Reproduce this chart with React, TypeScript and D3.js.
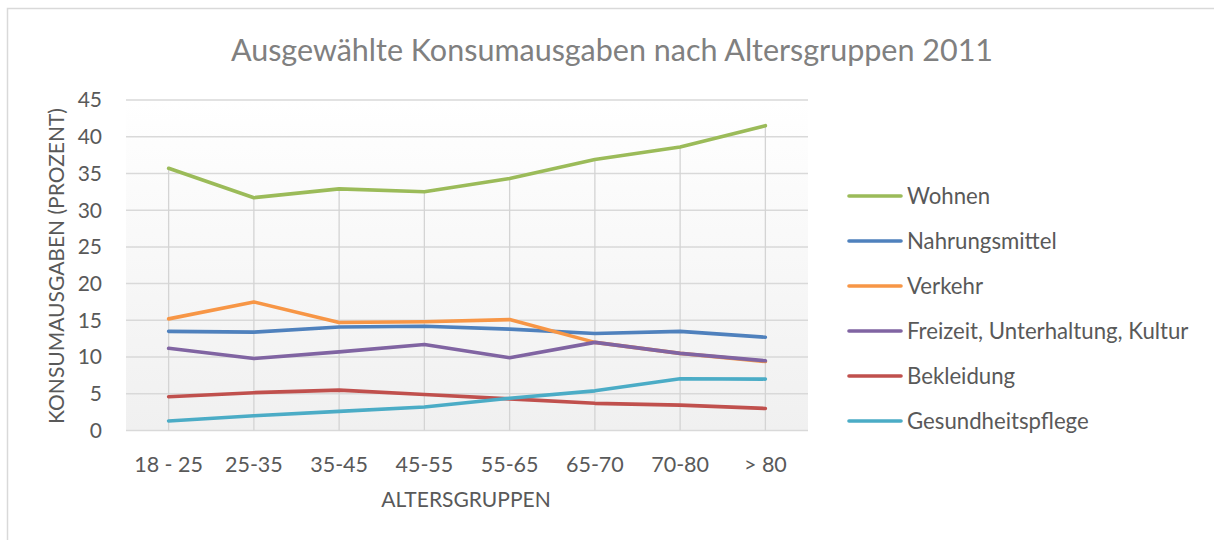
import React from "react";
import * as d3 from "d3";

const categories = ["18 - 25", "25-35", "35-45", "45-55", "55-65", "65-70", "70-80", "> 80"];
const wohnen = [35.7, 31.7, 32.9, 32.5, 34.3, 36.9, 38.6, 41.5];
const nahrungsmittel = [13.5, 13.4, 14.1, 14.2, 13.8, 13.2, 13.5, 12.7];
const verkehr = [15.2, 17.5, 14.7, 14.8, 15.1, 12.0, 10.5, 9.4];
const freizeit = [11.2, 9.8, 10.7, 11.7, 9.9, 12.0, 10.5, 9.5];
const bekleidung = [4.6, 5.15, 5.5, 4.9, 4.3, 3.7, 3.45, 3.0];
const gesundheit = [1.3, 2.0, 2.6, 3.2, 4.4, 5.4, 7.05, 7.0];
const seriesNames = ["Wohnen", "Nahrungsmittel", "Verkehr", "Freizeit, Unterhaltung, Kultur", "Bekleidung", "Gesundheitspflege"];
const seriesColors = ["#9bbb59", "#4f81bd", "#f79646", "#8064a2", "#c0504d", "#4bacc6"];
const yTicks = [0, 5, 10, 15, 20, 25, 30, 35, 40, 45];
const title = "Ausgewählte Konsumausgaben nach Altersgruppen 2011";
const yTitle = "KONSUMAUSGABEN (PROZENT)";
const xTitle = "ALTERSGRUPPEN";

const FONT = "Lato, 'Open Sans', sans-serif";

export default function App() {
  const W = 1214, H = 540;
  const plot = { left: 126, right: 808, top: 100, bottom: 430.5 };
  const allSeries = [wohnen, nahrungsmittel, verkehr, freizeit, bekleidung, gesundheit];
  const x = d3.scaleBand<string>().domain(categories).range([plot.left, plot.right]).padding(0);
  const cx = (c: string) => (x(c) as number) + x.bandwidth() / 2;
  const y = d3.scaleLinear().domain([0, 45]).range([plot.bottom, plot.top]);
  const line = d3.line<number>().x((_, i) => cx(categories[i])).y((d) => y(d));
  const maxes = categories.map((_, i) => d3.max(allSeries, (s) => s[i]) as number);

  return (
    <svg width={W} height={H} style={{ position: "absolute", left: 0, top: 0, background: "#fff" }}>
      <defs>
        <linearGradient id="bg" x1="0" y1="0" x2="0" y2="1">
          <stop offset="0" stopColor="#ffffff" />
          <stop offset="1" stopColor="#f0f0f0" />
        </linearGradient>
      </defs>
      <rect x={7.5} y={8.5} width={1240} height={560} fill="#fff" stroke="#d9d9d9" strokeWidth={1.5} />
      <rect x={plot.left} y={plot.top} width={plot.right - plot.left} height={plot.bottom - plot.top} fill="url(#bg)" />
      {yTicks.map((t) => (
        <line key={"g" + t} x1={plot.left} x2={plot.right} y1={y(t)} y2={y(t)} stroke="#d9d9d9" strokeWidth={1.5} />
      ))}
      {categories.map((c, i) => (
        <line key={"d" + c} x1={cx(c)} x2={cx(c)} y1={y(maxes[i])} y2={y(0)} stroke="#d4d4d4" strokeWidth={1.3} />
      ))}
      {allSeries.map((s, k) => (
        <path key={"s" + k} d={line(s) as string} fill="none" stroke={seriesColors[k]} strokeWidth={3.6} strokeLinecap="round" strokeLinejoin="round" />
      ))}
      {yTicks.map((t) => (
        <text key={"yt" + t} x={102} y={y(t)} dy="0.35em" textAnchor="end" fontFamily={FONT} fontSize={21} fill="#595959">{t}</text>
      ))}
      {categories.map((c) => (
        <text key={"xt" + c} x={cx(c)} y={472} textAnchor="middle" fontFamily={FONT} fontSize={21.5} fill="#595959">{c}</text>
      ))}
      <text x={466} y={507} textAnchor="middle" fontFamily={FONT} fontSize={21} fill="#595959">{xTitle}</text>
      <text transform={`translate(64,266) rotate(-90)`} textAnchor="middle" fontFamily={FONT} fontSize={21} fill="#595959">{yTitle}</text>
      <text x={612} y={61} textAnchor="middle" fontFamily={FONT} fontSize={30.5} fill="#808080">{title}</text>
      {seriesNames.map((n, k) => {
        const ly = 196 + k * 45;
        return (
          <g key={"l" + k}>
            <line x1={849} x2={901} y1={ly} y2={ly} stroke={seriesColors[k]} strokeWidth={3.6} strokeLinecap="round" />
            <text x={907} y={ly} dy="0.35em" fontFamily={FONT} fontSize={22.2} fill="#595959">{n}</text>
          </g>
        );
      })}
    </svg>
  );
}
